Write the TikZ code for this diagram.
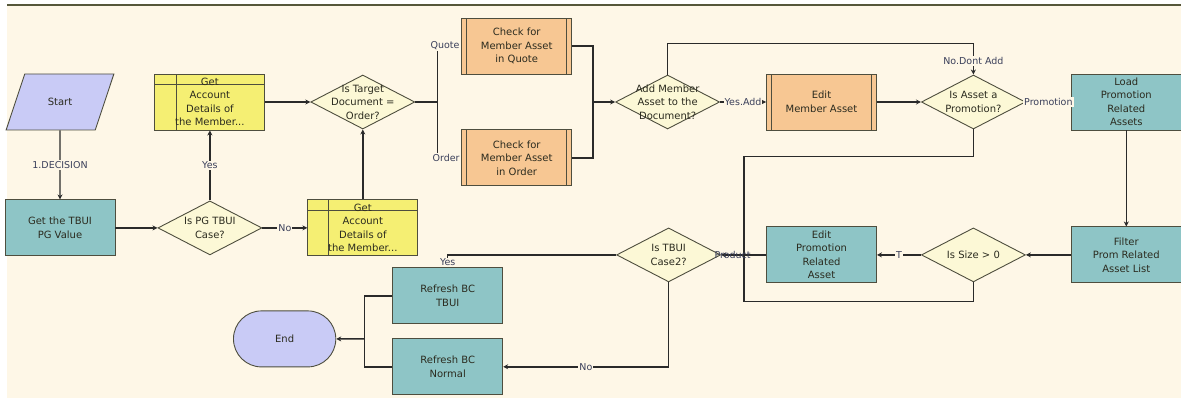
\documentclass[tikz,border=0pt]{standalone}
\usepackage{fontspec}
\setmainfont{DejaVu Sans}
\usetikzlibrary{shapes.geometric,shapes.misc,arrows.meta,positioning,calc}
\definecolor{bgcream}{HTML}{FEF7E7}
\definecolor{topc}{HTML}{56573A}
\definecolor{boxc}{HTML}{4E4E3E}
\definecolor{linec}{HTML}{2A2A2A}
\definecolor{textc}{HTML}{2B2B1F}
\definecolor{lblc}{HTML}{3A3F5A}
\definecolor{tealfill}{HTML}{8EC5C6}
\definecolor{lavfill}{HTML}{C9CBF6}
\definecolor{yelfill}{HTML}{F5EF73}
\definecolor{orafill}{HTML}{F7C793}
\definecolor{decfill}{HTML}{FCF8D6}
\newcommand{\flowfont}{\fontsize{10}{13.5}\selectfont}
\newcommand{\edgefont}{\fontsize{9.5}{10}\selectfont}
\tikzset{
  procbox/.style={rectangle,draw=boxc,line width=0.9pt,fill=tealfill,minimum width=110pt,
    minimum height=56pt,align=center,inner sep=1pt,text=textc,font=\flowfont},
  subproc/.style={procbox,fill=orafill,
    path picture={
      \draw[boxc,line width=0.8pt] ([xshift=5pt]path picture bounding box.north west)
        -- ([xshift=5pt]path picture bounding box.south west);
      \draw[boxc,line width=0.8pt] ([xshift=-5pt]path picture bounding box.north east)
        -- ([xshift=-5pt]path picture bounding box.south east);}},
  getbox/.style={procbox,fill=yelfill,
    path picture={
      \draw[boxc,line width=0.8pt] ([yshift=-10pt]path picture bounding box.north west)
        -- ([yshift=-10pt]path picture bounding box.north east);
      \draw[boxc,line width=0.8pt] ([xshift=21pt]path picture bounding box.north west)
        -- ([xshift=21pt]path picture bounding box.south west);}},
  decision/.style={diamond,draw=boxc,line width=0.9pt,fill=decfill,
    minimum width=104pt,minimum height=54pt,inner sep=0pt},
  dectext/.style={align=center,font=\flowfont,text=textc},
  startbox/.style={trapezium,trapezium left angle=60,trapezium right angle=120,
    trapezium stretches=true,draw=boxc,line width=0.9pt,fill=lavfill,
    minimum width=108pt,minimum height=56pt,font=\flowfont,text=textc},
  terminal/.style={rounded rectangle,draw=boxc,line width=0.9pt,fill=lavfill,
    minimum width=109pt,minimum height=56pt,font=\flowfont,text=textc},
  line/.style={draw=linec,line width=1.4pt},
  arrow/.style={line,-{Stealth[length=5pt,width=5pt]}},
  lbl/.style={font=\edgefont,text=lblc,fill=bgcream,inner sep=1pt},
}

\begin{document}
\begin{tikzpicture}[x=1pt,y=1pt]

  %% page
  \useasboundingbox (0,0) rectangle (1181,-398);
  \fill[bgcream] (7,-4) rectangle (1181,-398);
  \draw[topc,line width=2pt] (7,-5) -- (1181,-5);

  %% left part
  \node[startbox] (start) at (60,-102) {Start};
  \node[procbox, below=69pt of start] (gettbui) {Get the TBUI\\PG Value};
  \node[decision, right=42pt of gettbui,
    label={[dectext]center:Is PG TBUI\\Case?}] (ispg) {};
  \node[getbox, above=70pt of ispg] (acctyes) {Get\\Account\\Details of\\the Member...};
  \node[getbox, right=45pt of ispg] (acctno) {Get\\Account\\Details of\\the Member...};
  \node[decision, above=70pt of acctno,
    label={[dectext]center:Is Target\\Document =\\Order?}] (istarget) {};

  %% member asset checks
  \node[subproc, right=46pt of istarget, yshift=56pt] (chkquote) {Check for\\Member Asset\\in Quote};
  \node[subproc, below=55pt of chkquote] (chkorder) {Check for\\Member Asset\\in Order};
  \node[decision, right=43pt of chkquote, yshift=-56pt,
    label={[dectext]center:Add Member\\Asset to the\\Document?}] (addasset) {};
  \node[subproc, right=46pt of addasset] (editasset) {Edit\\Member Asset};
  \node[decision, right=44pt of editasset,
    label={[dectext]center:Is Asset a\\Promotion?}] (ispromo) {};

  %% promotion branch
  \node[procbox, right=45pt of ispromo] (loadpromo) {Load\\Promotion\\Related\\Assets};
  \node[procbox, below=96pt of loadpromo] (filterlist) {Filter\\Prom Related\\Asset List};
  \node[decision, left=45pt of filterlist,
    label={[dectext]center:Is Size > 0}] (issize) {};
  \node[procbox, left=44pt of issize] (editpromo) {Edit\\Promotion\\Related\\Asset};
  \node[decision, left=45pt of editpromo,
    label={[dectext]center:Is TBUI\\Case2?}] (istbui) {};

  %% refresh and end
  \node[procbox, left=113pt of istbui, yshift=-41pt] (refreshtbui) {Refresh BC\\TBUI};
  \node[procbox, below=14pt of refreshtbui] (refreshnormal) {Refresh BC\\Normal};
  \node[terminal, left=56pt of refreshtbui, yshift=-43pt] (stop) {End};

  %% connectors
  \draw[arrow] (start) -- node[lbl]{1.DECISION} (gettbui);
  \draw[arrow] (gettbui) -- (ispg);
  \draw[arrow] (ispg) -- node[lbl]{Yes} (acctyes);
  \draw[arrow] (ispg) -- node[lbl]{No} (acctno);
  \draw[arrow] (acctyes) -- (istarget);
  \draw[arrow] (acctno) -- (istarget);

  \coordinate[right=22pt of istarget] (split);
  \draw[line] (istarget.east) -- (split) |- node[lbl,pos=1,anchor=east]{Quote} (chkquote.west);
  \draw[line] (istarget.east) -- (split) |- node[lbl,pos=1,anchor=east]{Order} (chkorder.west);

  \coordinate[left=22pt of addasset] (merge);
  \draw[line] (chkquote.east) -| (merge);
  \draw[line] (chkorder.east) -| (merge);
  \draw[arrow] (merge) -- (addasset);

  \draw[arrow] (addasset) -- node[lbl]{Yes.Add} (editasset);
  \draw[arrow] (addasset.north) -- ++(0,31pt) -| node[lbl,pos=0.78]{No.Dont Add} (ispromo.north);
  \draw[arrow] (editasset) -- (ispromo);
  \draw[arrow] (ispromo) -- node[lbl]{Promotion} (loadpromo);
  \draw[arrow] (loadpromo) -- (filterlist);
  \draw[arrow] (filterlist) -- (issize);
  \draw[arrow] (issize) -- node[lbl]{T} (editpromo);

  \coordinate[right=23pt of istbui] (join);
  \draw[line] (ispromo.south) -- ++(0,-27pt) -| (join);
  \draw[line] (issize.south) -- ++(0,-19pt) -| (join);
  \draw[line] (editpromo) -- (join);
  \draw[arrow] (join) -- node[lbl,fill=none]{Product} (istbui);

  \draw[line] (istbui) -| node[lbl,pos=0.8]{Yes} (refreshtbui.north);
  \draw[arrow] (istbui) |- node[lbl,pos=0.75]{No} (refreshnormal);

  \coordinate[right=28pt of stop] (endjoin);
  \draw[line] (refreshtbui) -| (endjoin);
  \draw[line] (refreshnormal) -| (endjoin);
  \draw[arrow] (endjoin) -- (stop);

\end{tikzpicture}
\end{document}
